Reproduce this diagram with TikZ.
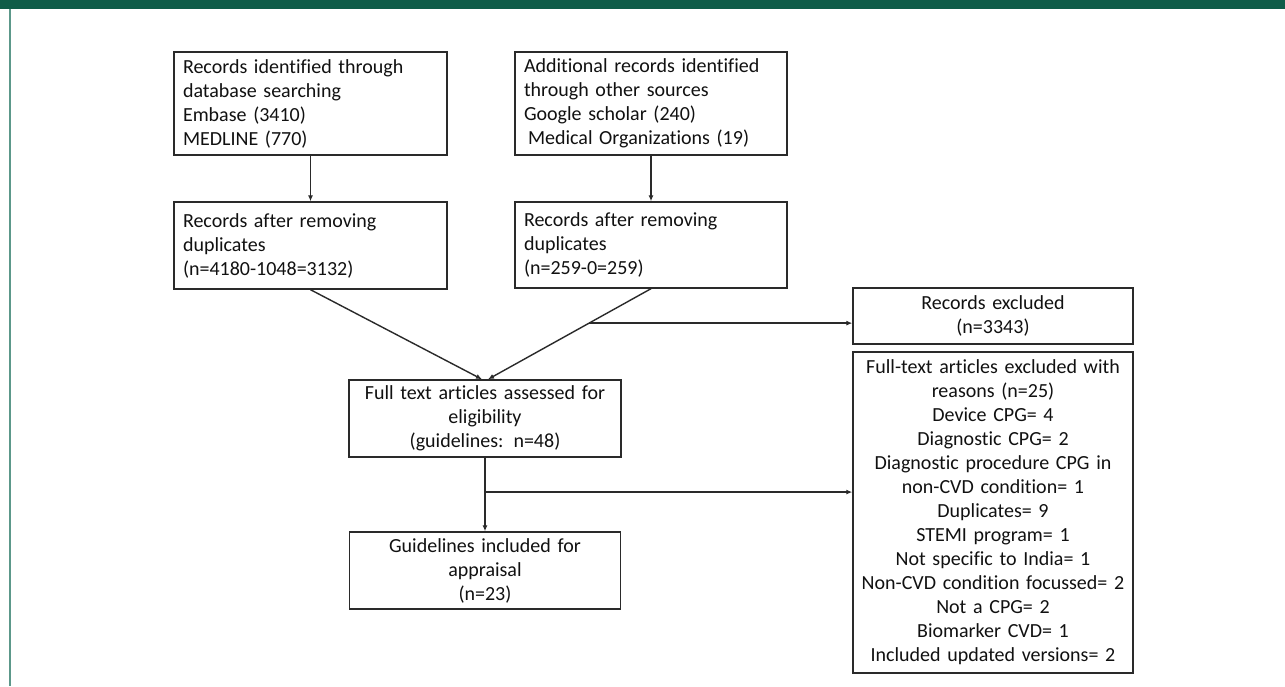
\documentclass[tikz,border=0pt]{standalone}
\usepackage{fontspec}
\setmainfont{Carlito}[Ligatures=CommonOff]
\usetikzlibrary{arrows.meta}
\definecolor{bargreen}{HTML}{0F5C48}
\definecolor{sidegreen}{HTML}{5C988A}
\definecolor{boxline}{HTML}{2A2A2A}
\definecolor{txt}{HTML}{111111}
\begin{document}
\begin{tikzpicture}[x=1pt,y=-1pt,
  box/.style={draw=boxline, line width=1.4pt, inner sep=0pt, text=txt,
    font=\fontsize{20}{24}\selectfont},
  lbox/.style={box, align=left},
  cbox/.style={box, align=center},
  arr/.style={draw=boxline, line width=1.4pt, -{Latex[length=6pt,width=5pt]}},
  ln/.style={draw=boxline, line width=1.4pt}]
\useasboundingbox (0,0) rectangle (1285,686);
\fill[white] (0,0) rectangle (1285,686);
\fill[bargreen] (0,0) rectangle (1285,9);
\fill[sidegreen] (9,9) rectangle (11,686);

\node[lbox, minimum width=273pt, minimum height=103pt, text width=255pt] (b1) at (310.5,103.5)
  {Records identified through\\database searching\\Embase (3410)\\MEDLINE (770)};
\node[lbox, minimum width=272pt, minimum height=103pt, text width=254pt] (b2) at (651,103.5)
  {Additional records identified\\through other sources\\Google scholar (240)\\\hspace*{4pt}Medical Organizations (19)};
\node[lbox, minimum width=273pt, minimum height=87pt, text width=255pt] (b3) at (310.5,245.5)
  {Records after removing\\duplicates\\(n=4180-1048=3132)};
\node[lbox, minimum width=272pt, minimum height=86pt, text width=254pt] (b4) at (651,245)
  {Records after removing\\duplicates\\(n=259-0=259)};
\node[cbox, minimum width=272pt, minimum height=77pt, text width=262pt] (b5) at (485,418.5)
  {Full text articles assessed for\\eligibility\\(guidelines: n=48)};
\node[cbox, minimum width=280pt, minimum height=56pt, text width=270pt] (b6) at (993,316)
  {Records excluded\\(n=3343)};
\node[cbox, minimum width=280pt, minimum height=321pt, text width=270pt] (b7) at (993,512.5)
  {Full-text articles excluded with\\reasons (n=25)\\Device CPG= 4\\Diagnostic CPG= 2\\Diagnostic procedure CPG in\\non-CVD condition= 1\\Duplicates= 9\\STEMI program= 1\\Not specific to India= 1\\Non-CVD condition focussed= 2\\Not a CPG= 2\\Biomarker CVD= 1\\Included updated versions= 2};
\node[cbox, minimum width=271pt, minimum height=77pt, text width=261pt] (b8) at (485,570.5)
  {Guidelines included for\\appraisal\\(n=23)};

\draw[arr] (b1.south) -- (b3.north);
\draw[arr] (b2.south) -- (b4.north);
\draw[arr] (b3.south) -- ([xshift=-3pt]b5.north);
\draw[arr] (b4.south) -- coordinate[pos=0.38] (j1) ([xshift=3pt]b5.north);
\draw[arr] (j1) -- (j1 -| b6.west);
\draw[arr] (b5.south) -- coordinate[pos=0.467] (j2) (b8.north);
\draw[arr] (j2) -- (j2 -| b7.west);
\end{tikzpicture}
\end{document}
